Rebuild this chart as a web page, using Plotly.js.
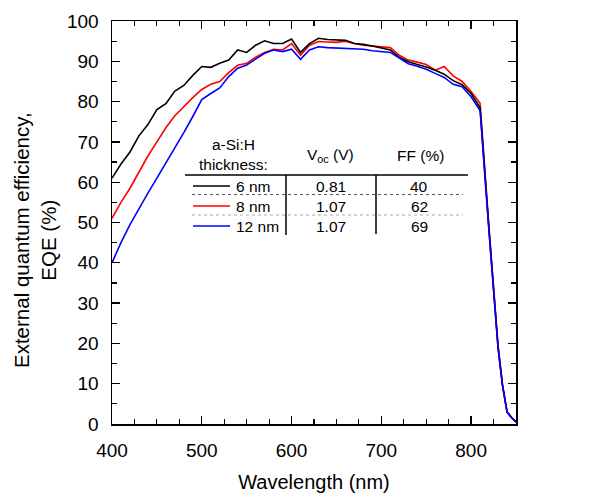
<!DOCTYPE html>
<html>
<head>
<meta charset="utf-8">
<script src="https://cdn.plot.ly/plotly-3.0.1.min.js"></script>
<style>
html,body{margin:0;padding:0;background:#fff;}
#chart{width:608px;height:499px;}
</style>
</head>
<body>
<div id="chart"></div>
<script>
// Wavelength (nm)
var wavelength = [400,410,420,430,440,450,460,470,480,490,500,510,520,530,540,550,560,570,580,590,600,610,620,630,640,650,660,670,680,690,700,710,720,730,740,750,760,770,780,790,800,810,820,830,835,840,845,850];

// EQE (%) for each a-Si:H thickness
var eqe6nm = [61,64.5,67.5,71.5,74.3,78,79.5,82.6,84,86.5,88.7,88.5,89.5,90.3,92.8,92.2,94,95.1,94.4,94.4,95.5,92.2,94.4,95.7,95.4,95.3,95.2,94.4,94.2,93.8,93.3,92.8,91,89.9,89.2,88.6,87.8,86.8,85.2,84.2,82,78.5,48,19,9.5,3,1.6,0.5];
var eqe8nm = [51,55,58.5,62.5,66.5,70,73.5,76.5,78.8,81,83,84.3,85,87.2,89,89.5,91,92.2,93,92.8,94.4,91.5,94,94.9,94.8,94.7,95,94.4,94,93.8,93.5,93.4,91.5,90.3,89.8,89.2,87.8,88.7,86.4,85,82.5,79.6,48.5,19.5,9.8,3,1.6,0.5];
var eqe12nm = [40,45,49.5,53.5,57.3,61,64.7,68.5,72.3,76.3,80.5,82,83.4,86.2,88.3,89.1,90.6,92,92.8,92.4,93,90.5,92.8,93.6,93.4,93.3,93.2,93.2,93,92.6,92.4,92.2,90.8,89.4,88.8,88,87,86,84.3,83.7,81.2,77.8,47.5,19,9.5,3,1.6,0.5];

// Inset table contents
var thicknessLabels = ["6 nm","8 nm","12 nm"];
var vocValues = ["0.81","1.07","1.07"];
var ffValues = ["40","62","69"];
var seriesColors = ["#000000","#ff0000","#0000ff"];

var FONT = "Liberation Sans, Arial, sans-serif";

// plot area in pixels: left 112, right 516, top 21, bottom 424
var L = 112, R = 516, T = 21, B = 424;
function px(xp){ return (xp - L) / (R - L); }
function py(yp){ return (B - yp) / (B - T); }

var seriesY = [eqe6nm, eqe8nm, eqe12nm];
var traces = seriesY.map(function(yv, i){
  return {
    x: wavelength, y: yv, type: 'scatter', mode: 'lines',
    line: {color: seriesColors[i], width: 1.6},
    name: thicknessLabels[i], showlegend: false, hoverinfo: 'skip'
  };
});
traces = [traces[1], traces[0], traces[2]];

var shapes = [];
var annotations = [];

shapes.push({type:'line', xref:'paper', yref:'paper', x0:px(185), x1:px(468), y0:py(175), y1:py(175), line:{color:'#000', width:1.5}});
shapes.push({type:'line', xref:'paper', yref:'paper', x0:px(286), x1:px(286), y0:py(175), y1:py(235), line:{color:'#000', width:1.5}});
shapes.push({type:'line', xref:'paper', yref:'paper', x0:px(376), x1:px(376), y0:py(175), y1:py(234), line:{color:'#000', width:1.5}});
shapes.push({type:'line', xref:'paper', yref:'paper', x0:px(192), x1:px(463), y0:py(194.5), y1:py(194.5), line:{color:'#555', width:1, dash:'dot'}});
shapes.push({type:'line', xref:'paper', yref:'paper', x0:px(192), x1:px(463), y0:py(215), y1:py(215), line:{color:'#aaa', width:1, dash:'dot'}});

var rowY = [186, 206, 226];
for (var i = 0; i < 3; i++) {
  shapes.push({type:'line', xref:'paper', yref:'paper', x0:px(193), x1:px(230), y0:py(rowY[i]), y1:py(rowY[i]), line:{color:seriesColors[i], width:1.6}});
  annotations.push({xref:'paper', yref:'paper', x:px(234), y:py(rowY[i]), xanchor:'left', yanchor:'middle', text:thicknessLabels[i], showarrow:false, font:{family:FONT, size:15.5, color:'#000'}});
  annotations.push({xref:'paper', yref:'paper', x:px(331), y:py(rowY[i]), xanchor:'center', yanchor:'middle', text:vocValues[i], showarrow:false, font:{family:FONT, size:15.5, color:'#000'}});
  annotations.push({xref:'paper', yref:'paper', x:px(419), y:py(rowY[i]), xanchor:'center', yanchor:'middle', text:ffValues[i], showarrow:false, font:{family:FONT, size:15.5, color:'#000'}});
}
annotations.push({xref:'paper', yref:'paper', x:px(233), y:py(154), xanchor:'center', yanchor:'middle', text:'a-Si:H<br>thickness:', showarrow:false, font:{family:FONT, size:15.5, color:'#000'}});
annotations.push({xref:'paper', yref:'paper', x:px(330), y:py(155), xanchor:'center', yanchor:'middle', text:'V<sub>oc</sub> (V)', showarrow:false, font:{family:FONT, size:15.5, color:'#000'}});
annotations.push({xref:'paper', yref:'paper', x:px(420), y:py(155), xanchor:'center', yanchor:'middle', text:'FF (%)', showarrow:false, font:{family:FONT, size:15.5, color:'#000'}});
annotations.push({xref:'paper', yref:'paper', x:px(35), y:py(240), xanchor:'center', yanchor:'middle', text:'External quantum efficiency,<br>EQE (%)', textangle:-90, showarrow:false, font:{family:FONT, size:20.5, color:'#000'}});

var axisCommon = {
  showline: true, linecolor: '#000', linewidth: 1.5, mirror: 'ticks',
  ticks: 'inside', ticklen: 8, tickwidth: 1.3, tickcolor: '#000',
  showgrid: false, zeroline: false,
  tickfont: {family: FONT, size: 19, color: '#000'}
};

var layout = {
  width: 608, height: 499,
  margin: {l: L, r: 608 - R, t: T, b: 499 - B},
  paper_bgcolor: '#fff', plot_bgcolor: '#fff',
  showlegend: false,
  xaxis: Object.assign({}, axisCommon, {
    range: [400, 850], tick0: 400, dtick: 100, ticklabelstandoff: 9,
    minor: {dtick: 25, ticks: 'inside', ticklen: 5, tickwidth: 1.2, tickcolor: '#000', showgrid: false},
    title: {text: 'Wavelength (nm)', font: {family: FONT, size: 20, color: '#000'}, standoff: 14}
  }),
  yaxis: Object.assign({}, axisCommon, {
    range: [0, 100], tick0: 0, dtick: 10, ticklabelstandoff: 8,
    minor: {dtick: 5, ticks: 'inside', ticklen: 5, tickwidth: 1.2, tickcolor: '#000', showgrid: false}
  }),
  shapes: shapes,
  annotations: annotations
};

Plotly.newPlot('chart', traces, layout, {displayModeBar: false, staticPlot: true});
</script>
</body>
</html>
